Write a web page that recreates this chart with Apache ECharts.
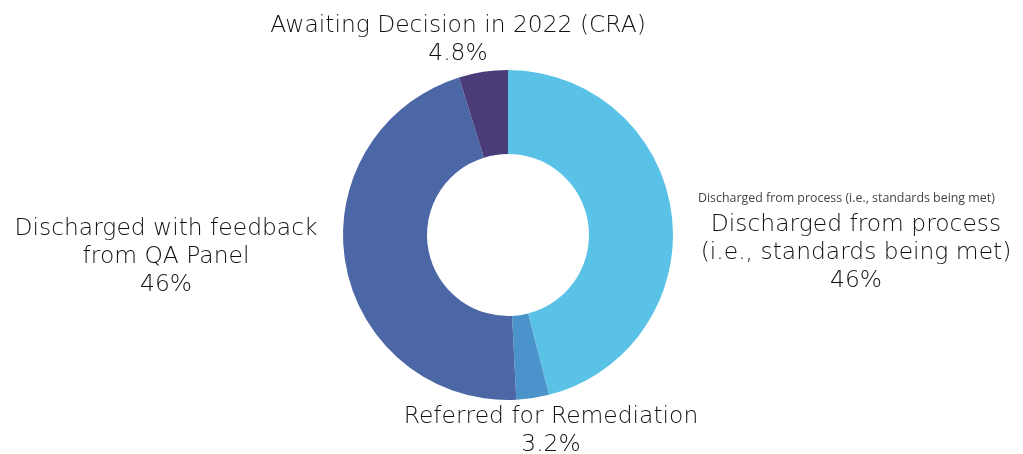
<!DOCTYPE html>
<html>
<head>
<meta charset="utf-8">
<script src="https://cdn.jsdelivr.net/npm/echarts@6/dist/echarts.min.js"></script>
<style>
  html, body { margin: 0; padding: 0; background: #fff; }
  #chart { width: 1023px; height: 454px; }
</style>
</head>
<body>
<div id="chart"></div>
<script>
// 分类和数值
const categories = [
  'Discharged from process (i.e., standards being met)',
  'Referred for Remediation',
  'Discharged with feedback from QA Panel',
  'Awaiting Decision in 2022 (CRA)'
]
const labelNames = [
  'Discharged from process\n(i.e., standards being met)',
  'Referred for Remediation',
  'Discharged with feedback\nfrom QA Panel',
  'Awaiting Decision in 2022 (CRA)'
]
const values = [46, 3.2, 46, 4.8]
const colors = ['#5bc2e7', '#4a93cb', '#4c67a6', '#493c78']

// 标签位置 (label centre points)
const labelPos = [
  [856, 253],
  [551, 431],
  [166, 257],
  [458, 40]
]

const chart = echarts.init(document.getElementById('chart'))

const option = {
  animation: false,
  graphic: [
    {
      type: 'text',
      left: 698,
      top: 192,
      style: {
        text: categories[0],
        font: '12.4px "Open Sans"',
        fill: '#444'
      }
    }
  ],
  series: [
    {
      type: 'pie',
      center: [508, 235],
      radius: [81, 165],
      startAngle: 90,
      clockwise: true,
      avoidLabelOverlap: false,
      data: values.map((v, i) => ({
        name: categories[i],
        value: v,
        itemStyle: { color: colors[i] },
        label: { formatter: labelNames[i] + '\n' + v + '%' }
      })),
      label: {
        show: true,
        position: 'outside',
        color: '#111',
        fontFamily: 'DejaVu Sans',
        fontWeight: 200,
        fontSize: 23.4,
        lineHeight: 28,
        align: 'center'
      },
      labelLine: { show: false },
      labelLayout: params => ({
        x: labelPos[params.dataIndex][0],
        y: labelPos[params.dataIndex][1],
        align: 'center',
        verticalAlign: 'middle'
      })
    }
  ]
}
chart.setOption(option)
</script>
</body>
</html>
